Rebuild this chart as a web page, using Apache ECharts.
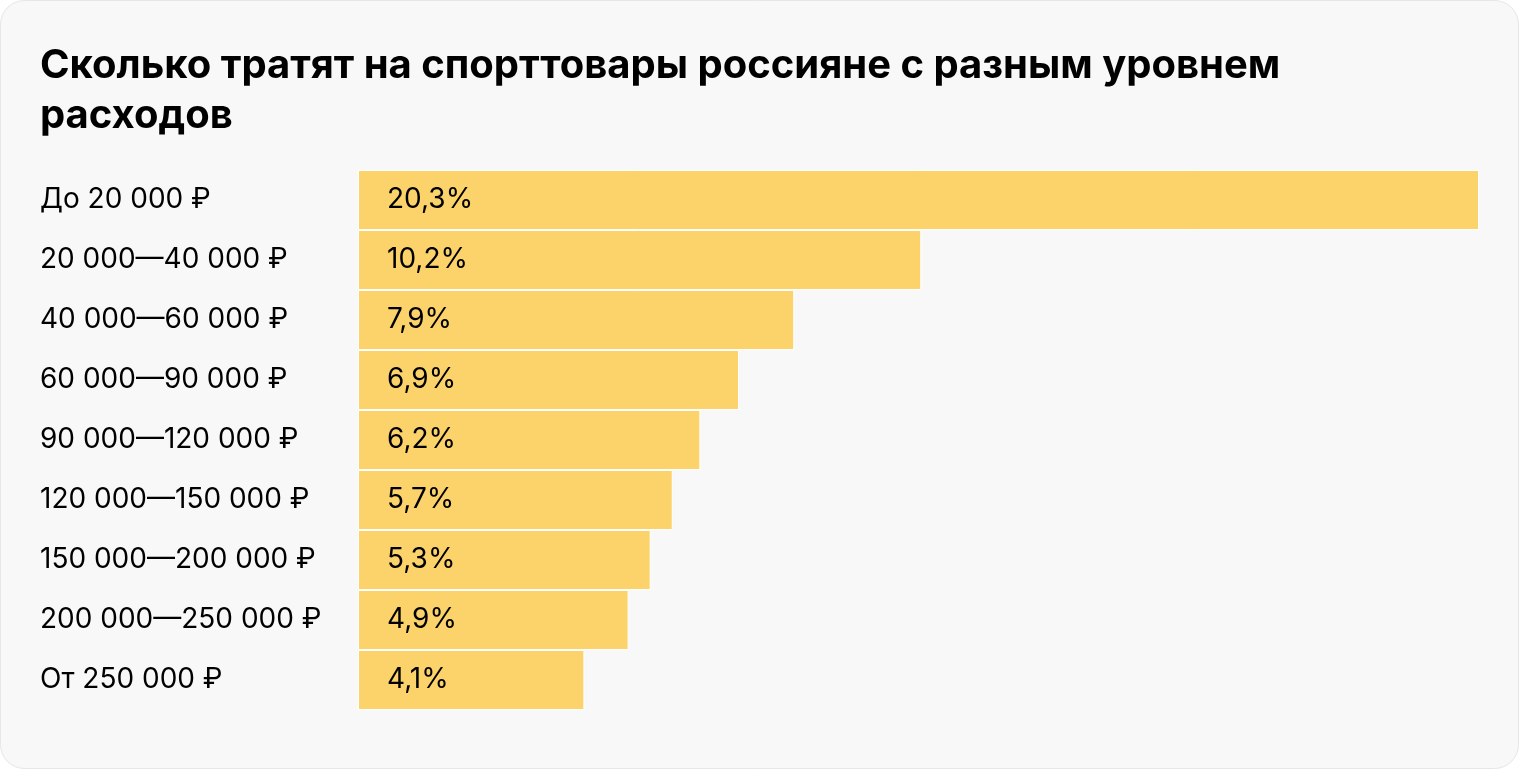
<!DOCTYPE html>
<html><head><meta charset="utf-8">
<script src="https://cdn.jsdelivr.net/npm/echarts@6/dist/echarts.min.js"></script>
<style>html,body{margin:0;padding:0;background:#fff}#c{width:1520px;height:770px}</style>
</head><body><div id="c"></div>
<script>
const titleText = 'Сколько тратят на спорттовары россияне с разным уровнем\nрасходов';
const categories = ['До 20 000 ₽','20 000—40 000 ₽','40 000—60 000 ₽','60 000—90 000 ₽','90 000—120 000 ₽','120 000—150 000 ₽','150 000—200 000 ₽','200 000—250 000 ₽','От 250 000 ₽'];
const values = [20.3,10.2,7.9,6.9,6.2,5.7,5.3,4.9,4.1];

const chart = echarts.init(document.getElementById('c'), null, {renderer:'canvas'});
chart.setOption({
  animation:false,
  backgroundColor:'#ffffff',
  graphic:[{type:'rect',z:-10,silent:true,shape:{x:0.5,y:0.5,width:1518,height:768,r:24},style:{fill:'#f8f8f8',stroke:'#e6e6e6',lineWidth:1}}],
  title:{text:titleText,left:40,top:41,padding:0,textStyle:{fontFamily:'Inter',fontSize:40,fontWeight:'bold',color:'#000',lineHeight:50}},
  grid:{left:358,top:170,width:1121,height:540,containLabel:false},
  xAxis:{type:'value',min:0,max:20.3,show:false},
  yAxis:{type:'category',data:categories,inverse:true,axisLine:{show:false},axisTick:{show:false},
    axisLabel:{align:'left',margin:318,fontFamily:'Inter',fontSize:28,color:'#000'}},
  series:[{type:'bar',data:values,barCategoryGap:0,barWidth:'100%',
    itemStyle:{color:'#fcd36a',borderColor:'#ffffff',borderWidth:1},
    label:{show:true,position:'insideLeft',distance:29,fontFamily:'Inter',fontSize:28,color:'#000',
      formatter:p=>String(p.value).replace('.',',')+'%'}}]
});
</script></body></html>
